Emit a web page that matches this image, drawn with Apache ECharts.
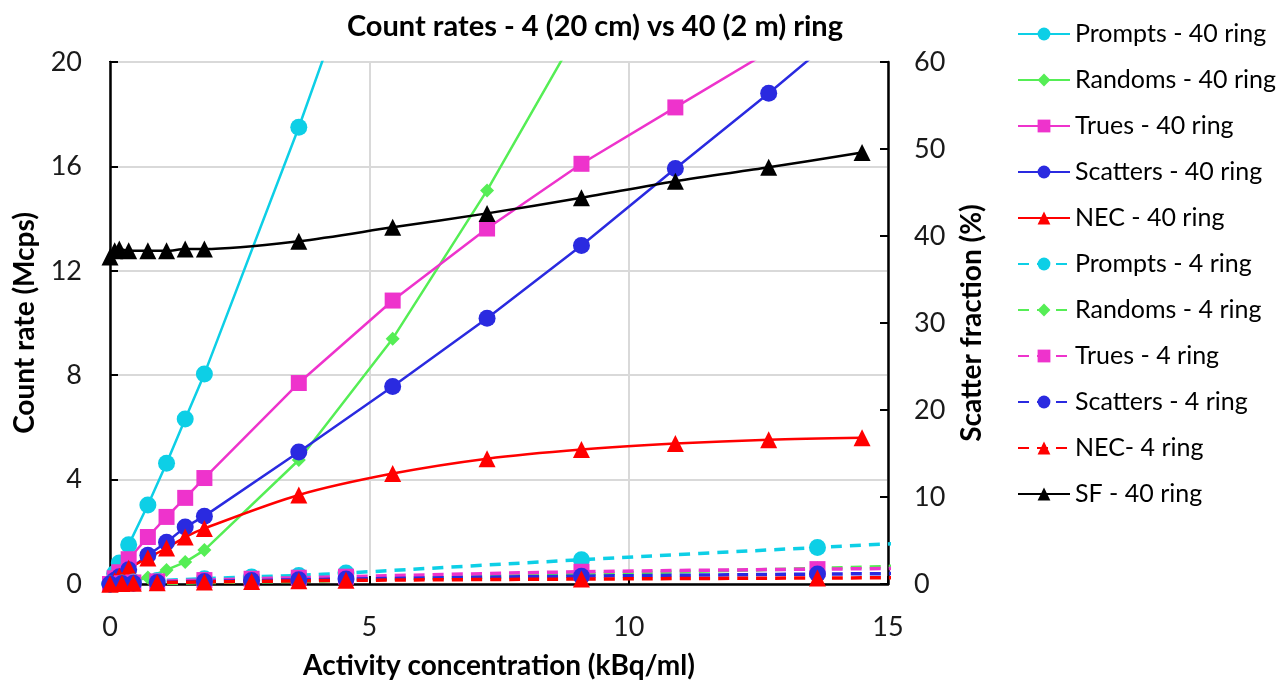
<!DOCTYPE html>
<html>
<head>
<meta charset="utf-8">
<script src="https://cdn.jsdelivr.net/npm/echarts@6/dist/echarts.min.js"></script>
<style>
  html, body { margin: 0; padding: 0; background: #fff; }
  #main { width: 1283px; height: 682px; }
</style>
</head>
<body>
<div id="main"></div>
<script>
// activity concentration (kBq/ml)
const x40 = [0, 0.09, 0.18, 0.36, 0.73, 1.09, 1.45, 1.82, 3.64, 5.45, 7.27, 9.09, 10.9, 12.7, 14.5];
const x4 = [0, 0.23, 0.45, 0.91, 1.82, 2.73, 3.64, 4.55, 9.09, 13.64, 18.18];

// 40 ring count rates (Mcps)
const prompts40 = [0, 0.4, 0.8, 1.5, 3.03, 4.63, 6.32, 8.05, 17.5, 27.6];
const randoms40 = [0, 0.01, 0.02, 0.07, 0.25, 0.54, 0.84, 1.3, 4.75, 9.4, 15.08, 21.4];
const trues40 = [0, 0.22, 0.45, 0.95, 1.8, 2.57, 3.3, 4.06, 7.7, 10.86, 13.62, 16.1, 18.26, 20.4];
const scatters40 = [0, 0.14, 0.28, 0.55, 1.1, 1.6, 2.18, 2.6, 5.06, 7.57, 10.18, 12.97, 15.92, 18.8, 21.8];
const nec40 = [0, 0.12, 0.3, 0.6, 1.0, 1.38, 1.8, 2.13, 3.41, 4.23, 4.8, 5.15, 5.38, 5.53, 5.6];

// 4 ring count rates (Mcps)
const prompts4 = [0, 0.04, 0.08, 0.13, 0.2, 0.27, 0.33, 0.42, 0.93, 1.4, 1.85];
const randoms4 = [0, 0, 0.01, 0.02, 0.05, 0.08, 0.1, 0.14, 0.38, 0.6, 0.85];
const trues4 = [0, 0.03, 0.06, 0.1, 0.15, 0.2, 0.24, 0.28, 0.47, 0.57, 0.64];
const scatters4 = [0, 0.02, 0.03, 0.06, 0.1, 0.13, 0.16, 0.19, 0.3, 0.38, 0.44];
const nec4 = [0, 0.02, 0.03, 0.05, 0.08, 0.1, 0.12, 0.14, 0.19, 0.23, 0.25];

// scatter fraction 40 ring (%)
const sf40 = [37.6, 38.3, 38.5, 38.3, 38.3, 38.3, 38.5, 38.5, 39.4, 41.0, 42.6, 44.4, 46.3, 47.9, 49.6];

const CYAN = '#0dcfe6', GREEN = '#55ee55', MAGENTA = '#ee33cc', BLUE = '#2a2ae0', RED = '#ff0000';
const FONT = 'Lato';

const pairs = (xs, ys) => ys.map((v, i) => [xs[i], v]);

const mk = (name, xs, ys, color, symbol, size, dashed, extra) => Object.assign({
    name: name,
    type: 'line',
    data: pairs(xs, ys),
    symbol: symbol,
    symbolSize: size,
    showSymbol: true,
    clip: true,
    itemStyle: { color: color },
    lineStyle: { color: color, width: dashed ? 3.5 : 2.5, type: dashed ? [11, 8] : 'solid' },
    emphasis: { disabled: true }
}, extra || {});

const axisName = { fontFamily: FONT, fontSize: 28, fontWeight: 'bold', color: '#000' };
const tickLabel = { fontFamily: FONT, fontSize: 27, color: '#1a1a1a' };

const chart = echarts.init(document.getElementById('main'));
chart.setOption({
    animation: false,
    backgroundColor: '#fff',
    textStyle: { fontFamily: FONT },
    title: {
        text: 'Count rates - 4 (20 cm) vs 40 (2 m) ring',
        left: 590, top: 7, textAlign: 'center',
        textStyle: { fontFamily: FONT, fontSize: 29, fontWeight: 'bold', color: '#000' }
    },
    legend: {
        orient: 'vertical',
        left: 1012, top: 16,
        itemWidth: 52, itemHeight: 16, itemGap: 20,
        textStyle: { fontFamily: FONT, fontSize: 25, color: '#000', lineHeight: 26 },
        data: ['Prompts - 40 ring', 'Randoms - 40 ring', 'Trues - 40 ring', 'Scatters - 40 ring', 'NEC - 40 ring',
            'Prompts - 4 ring', 'Randoms - 4 ring', 'Trues - 4 ring', 'Scatters - 4 ring', 'NEC- 4 ring', 'SF - 40 ring']
    },
    grid: {
        left: 110, right: 395, top: 62, bottom: 98,
        outerBoundsMode: 'none',
        show: true, borderColor: '#000', borderWidth: 2
    },
    xAxis: {
        type: 'value', min: 0, max: 15, interval: 5,
        name: 'Activity concentration (kBq/ml)',
        nameLocation: 'middle', nameGap: 68,
        nameTextStyle: axisName,
        axisLine: { show: true, lineStyle: { color: '#000', width: 2.5 } },
        axisTick: { show: true, inside: true, length: 8, lineStyle: { color: '#000', width: 2 } },
        axisLabel: Object.assign({ margin: 30 }, tickLabel),
        splitLine: { show: true, lineStyle: { color: '#d9d9d9', width: 2 } }
    },
    yAxis: [{
        type: 'value', min: 0, max: 20, interval: 4,
        name: 'Count rate (Mcps)',
        nameLocation: 'middle', nameGap: 71,
        nameTextStyle: axisName,
        axisLine: { show: true, lineStyle: { color: '#000', width: 2.5 } },
        axisTick: { show: true, inside: true, length: 8, lineStyle: { color: '#000', width: 2 } },
        axisLabel: Object.assign({ margin: 28 }, tickLabel),
        splitLine: { show: true, lineStyle: { color: '#d9d9d9', width: 2 } }
    }, {
        type: 'value', min: 0, max: 60, interval: 10,
        name: 'Scatter fraction (%)',
        nameLocation: 'middle', nameGap: 70,
        nameTextStyle: axisName,
        axisLine: { show: true, lineStyle: { color: '#000', width: 2.5 } },
        axisTick: { show: true, inside: true, length: 8, lineStyle: { color: '#000', width: 2 } },
        axisLabel: Object.assign({ margin: 26 }, tickLabel),
        splitLine: { show: false }
    }],
    series: [
        mk('Prompts - 40 ring', x40, prompts40, CYAN, 'circle', 17, false),
        mk('Randoms - 40 ring', x40, randoms40, GREEN, 'diamond', 14, false),
        mk('Trues - 40 ring', x40, trues40, MAGENTA, 'rect', 16, false),
        mk('Scatters - 40 ring', x40, scatters40, BLUE, 'circle', 17, false),
        mk('NEC - 40 ring', x40, nec40, RED, 'triangle', 17, false, { smooth: 0.3 }),
        mk('Prompts - 4 ring', x4, prompts4, CYAN, 'circle', 17, true, { smooth: 0.3 }),
        mk('Randoms - 4 ring', x4, randoms4, GREEN, 'diamond', 14, true, { smooth: 0.3 }),
        mk('Trues - 4 ring', x4, trues4, MAGENTA, 'rect', 16, true, { smooth: 0.3 }),
        mk('Scatters - 4 ring', x4, scatters4, BLUE, 'circle', 17, true, { smooth: 0.3 }),
        mk('NEC- 4 ring', x4, nec4, RED, 'triangle', 17, true, { smooth: 0.3 }),
        mk('SF - 40 ring', x40, sf40, '#000', 'triangle', 17, false, { yAxisIndex: 1, smooth: 0.3 })
    ]
});
</script>
</body>
</html>
